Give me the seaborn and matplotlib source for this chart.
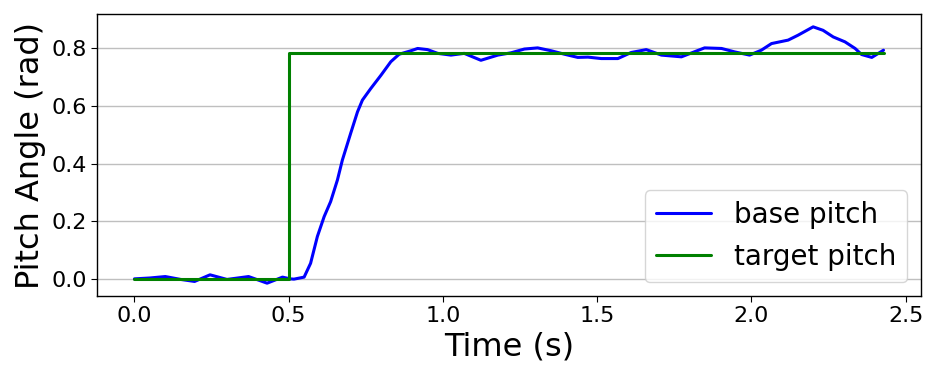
import numpy as np
import pandas as pd
import matplotlib
matplotlib.use("Agg")
import matplotlib.pyplot as plt
import seaborn as sns

# base pitch trajectory
time_base = [0.0, 0.05, 0.1, 0.15, 0.195, 0.245, 0.3, 0.37, 0.43, 0.48, 0.505, 0.517,
             0.55, 0.571, 0.593, 0.615, 0.636, 0.658, 0.674, 0.701, 0.723, 0.739,
             0.766, 0.799, 0.831, 0.858, 0.896, 0.918, 0.950, 0.983, 1.026, 1.069,
             1.123, 1.178, 1.221, 1.264, 1.307, 1.351, 1.394, 1.437, 1.47, 1.513,
             1.567, 1.610, 1.659, 1.708, 1.773, 1.848, 1.903, 1.946, 1.994, 2.032,
             2.065, 2.119, 2.151, 2.2, 2.232, 2.265, 2.303, 2.336, 2.357, 2.39, 2.428]
pitch_base = [0.0, 0.003, 0.008, -0.002, -0.009, 0.014, -0.002, 0.008, -0.015, 0.006,
              0.0, -0.001, 0.006, 0.054, 0.147, 0.216, 0.268, 0.343, 0.412, 0.505,
              0.579, 0.62, 0.660, 0.706, 0.753, 0.779, 0.791, 0.799, 0.795, 0.782,
              0.776, 0.782, 0.758, 0.776, 0.784, 0.797, 0.801, 0.791, 0.779, 0.768,
              0.769, 0.764, 0.764, 0.785, 0.795, 0.776, 0.770, 0.801, 0.799, 0.787,
              0.776, 0.793, 0.816, 0.828, 0.845, 0.874, 0.862, 0.839, 0.822, 0.799,
              0.778, 0.768, 0.793]

# target step
time_target = [0.0, 0.5, 0.5, 2.428]
pitch_target = [0.0, 0.0, 0.785, 0.785]

sns.set_style("ticks", {"text.color": "black", "axes.labelcolor": "black",
                        "xtick.color": "black", "ytick.color": "black",
                        "axes.edgecolor": "black"})

fig, ax = plt.subplots(figsize=(9.47, 3.79), dpi=100)
fig.subplots_adjust(left=0.1024, right=0.9725, top=0.963, bottom=0.219)

ax.grid(axis='y', color='#b0b0b0', linewidth=1, alpha=0.8)
ax.set_axisbelow(True)

sns.lineplot(x=time_base, y=pitch_base, color='blue', linewidth=2.2,
             label='base pitch', sort=False, estimator=None, ax=ax)
sns.lineplot(x=time_target, y=pitch_target, color='green', linewidth=2.2,
             label='target pitch', sort=False, estimator=None, ax=ax)

ax.set_xlabel("Time (s)", fontsize=23)
ax.set_ylabel("Pitch Angle (rad)", fontsize=23)
ax.tick_params(labelsize=16, direction='out', length=4, color='black')
for s in ax.spines.values():
    s.set_linewidth(1)

ax.legend(loc='lower right', fontsize=20, framealpha=0.8)

fig.savefig("out.png", dpi=100)
